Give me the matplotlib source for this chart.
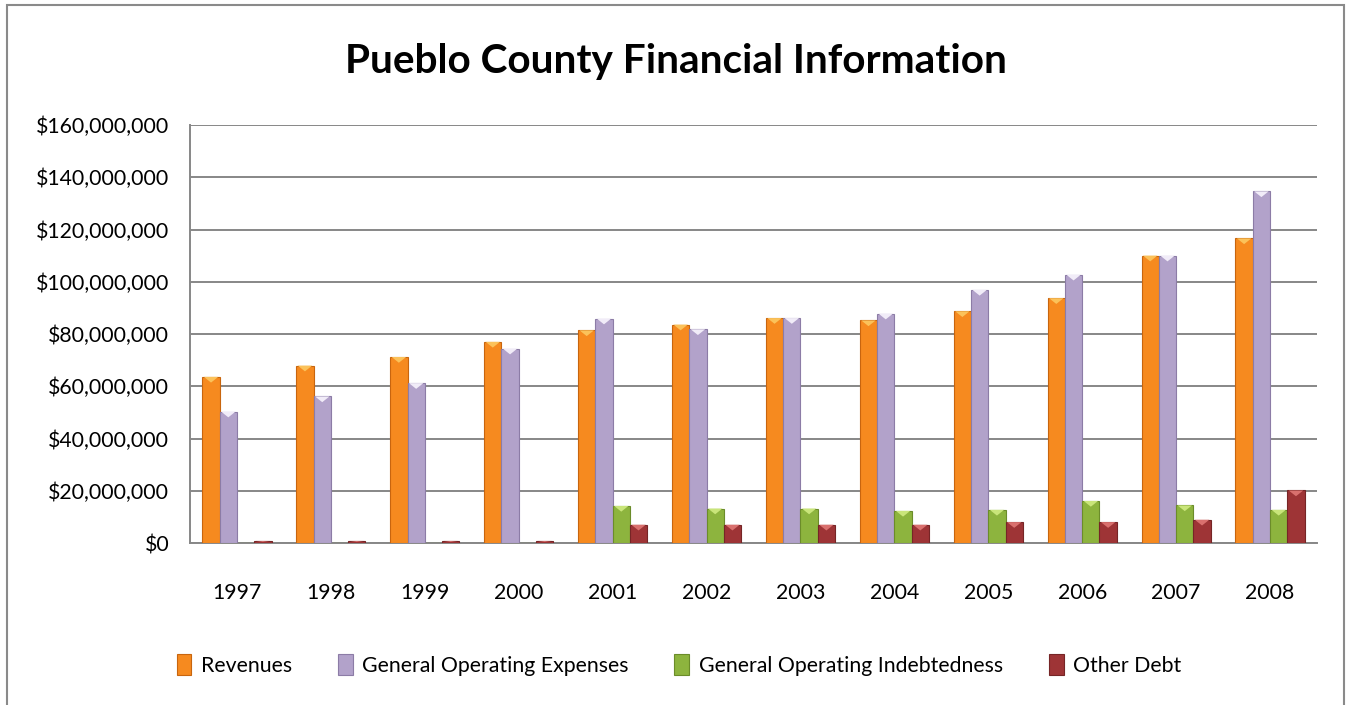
import matplotlib
matplotlib.use("Agg")
import matplotlib.pyplot as plt
import numpy as np
from matplotlib.patches import Rectangle, Polygon
from matplotlib.ticker import FuncFormatter, MultipleLocator

years = ["1997", "1998", "1999", "2000", "2001", "2002", "2003", "2004",
         "2005", "2006", "2007", "2008"]
revenues = [63.6e6, 67.9e6, 71.2e6, 77.0e6, 81.4e6, 83.6e6, 86.1e6, 85.2e6,
            88.7e6, 93.7e6, 110.0e6, 116.6e6]
gen_op_expenses = [50.3e6, 56.1e6, 61.2e6, 74.4e6, 85.9e6, 81.8e6, 86.1e6, 87.8e6,
                   96.9e6, 102.7e6, 110.0e6, 134.6e6]
gen_op_indebtedness = [0, 0, 0, 0, 14.2e6, 13.2e6, 13.2e6, 12.3e6,
                       12.7e6, 16.1e6, 14.4e6, 12.7e6]
other_debt = [0.8e6, 0.8e6, 0.8e6, 0.8e6, 7.0e6, 7.0e6, 7.0e6, 7.0e6,
              8.0e6, 8.0e6, 8.9e6, 20.1e6]
series_names = ["Revenues", "General Operating Expenses",
                "General Operating Indebtedness", "Other Debt"]
series = [revenues, gen_op_expenses, gen_op_indebtedness, other_debt]
colors = ["#F68A1F", "#B2A2CA", "#8DB43E", "#9E3436"]
edge_colors = ["#C8650E", "#8C7CA6", "#6B8C2A", "#762526"]
cap_colors = ["#FBC25A", "#F1ECF8", "#C9E57A", "#D9706E"]

plt.rcParams['font.family'] = ['Lato', 'DejaVu Sans']

W, H = 1346, 705
fig = plt.figure(figsize=(W / 100, H / 100), dpi=100)
fig.patch.set_facecolor("white")

# outer chart border
fig.patches.append(Rectangle((7 / W, -0.05), (1344 - 7) / W, 1.05 - 5 / H,
                             transform=fig.transFigure, fill=False,
                             edgecolor="#8A8A8A", linewidth=1.5))

ax = fig.add_axes([190 / W, 1 - 543 / H, (1317 - 190) / W, (543 - 125) / H])
x = np.arange(len(years))
bw = 0.184
offsets = (np.arange(4) - 1.5) * bw

handles = []
for i, (vals, name) in enumerate(zip(series, series_names)):
    bars = ax.bar(x + offsets[i], vals, width=bw, color=colors[i],
                  edgecolor=edge_colors[i], linewidth=0.8, label=name, zorder=3)
    handles.append(bars)
    for rect, v in zip(bars, vals):
        if v <= 0:
            continue
        bx, bwid = rect.get_x(), rect.get_width()
        capd = min(2.2e6, v * 0.5)
        tri = Polygon([[bx + bwid * 0.08, v], [bx + bwid * 0.92, v],
                       [bx + bwid * 0.5, v - capd]], closed=True,
                      facecolor=cap_colors[i], edgecolor="none", zorder=4)
        ax.add_patch(tri)

ax.set_xlim(-0.5, len(years) - 0.5)
ax.set_ylim(0, 160e6)
ax.yaxis.set_major_locator(MultipleLocator(20e6))
ax.yaxis.set_major_formatter(FuncFormatter(lambda v, p: "${:,.0f}".format(v)))
ax.set_xticks(x)
ax.set_xticklabels(years)
ax.tick_params(axis="both", length=0, labelsize=15.3, colors="black")
ax.tick_params(axis="x", pad=29)
ax.tick_params(axis="y", pad=15)
ax.grid(axis="y", color="#878787", linewidth=1.4, zorder=0)
ax.set_axisbelow(True)
for s in ["top", "right"]:
    ax.spines[s].set_visible(False)
for s in ["left", "bottom"]:
    ax.spines[s].set_color("#878787")
    ax.spines[s].set_linewidth(1.4)

fig.text(676 / W, 1 - 61 / H, "Pueblo County Financial Information",
         ha="center", va="center", fontsize=29.2, fontweight="bold")

fig.legend(handles=handles, labels=series_names, loc="center",
           bbox_to_anchor=(679 / W, 1 - 665 / H), ncol=4, frameon=False,
           fontsize=15.3, handlelength=0.7, handleheight=1.1,
           handletextpad=0.45, columnspacing=2.15)

fig.savefig("out.png", dpi=100)
